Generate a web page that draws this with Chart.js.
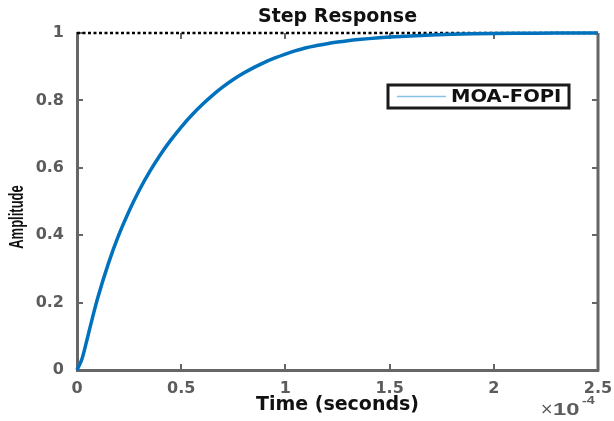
<!DOCTYPE html>
<html>
<head>
<meta charset="utf-8">
<script src="https://cdn.jsdelivr.net/npm/chart.js@4.4.1/dist/chart.umd.min.js"></script>
<style>
  html, body { margin: 0; padding: 0; background: #fff; }
  #wrap { width: 614px; height: 421px; }
</style>
</head>
<body>
<div id="wrap"><canvas id="stepChart" width="614" height="421"></canvas></div>
<script>
// time is in units of 1e-4 seconds (axis multiplier drawn bottom right)
const timeTicks = [0, 0.5, 1, 1.5, 2, 2.5];
const ampTicks = [0, 0.2, 0.4, 0.6, 0.8, 1];

const time = [0, 0.025, 0.05, 0.075, 0.1, 0.15, 0.2, 0.25, 0.3, 0.35, 0.4, 0.45, 0.5,
  0.55, 0.6, 0.65, 0.7, 0.75, 0.8, 0.85, 0.9, 0.95, 1.0, 1.05, 1.1, 1.15, 1.2, 1.25,
  1.3, 1.35, 1.4, 1.45, 1.5, 1.6, 1.7, 1.8, 1.9, 2.0, 2.1, 2.2, 2.3, 2.4, 2.5];
const amplitude = [0, 0.035, 0.095, 0.157, 0.215, 0.315, 0.40, 0.472, 0.535, 0.59, 0.639, 0.682, 0.721,
  0.756, 0.787, 0.815, 0.84, 0.862, 0.881, 0.898, 0.913, 0.926, 0.9375, 0.9475, 0.9563, 0.9628, 0.9683, 0.973,
  0.977, 0.9804, 0.9833, 0.9858, 0.9879, 0.9914, 0.9941, 0.9961, 0.9975, 0.9985, 0.9992, 0.9996, 0.9998, 0.9999, 1.0];
const finalValue = 1;
const seriesName = "MOA-FOPI";

const axisGray = "#666666";
const labelGray = "#5c5c5c";
const lineBlue = "#0072BD";
const legendBlue = "#86c3e6";

// draw text squeezed/stretched horizontally (the source image is wider than tall)
function stretchText(ctx, text, x, y, font, color, sx, align, rotate) {
  ctx.save();
  ctx.translate(x, y);
  ctx.scale(sx, 1);
  if (rotate) ctx.rotate(-Math.PI / 2);
  ctx.font = font;
  ctx.fillStyle = color;
  ctx.textAlign = align || "center";
  ctx.textBaseline = "middle";
  ctx.fillText(text, 0, 0);
  ctx.restore();
}

const framePlugin = {
  id: "frame",
  beforeDatasetsDraw(chart) {
    const { ctx, chartArea: a, scales } = chart;
    ctx.save();
    ctx.strokeStyle = axisGray;
    ctx.lineWidth = 3;
    ctx.beginPath();
    ctx.moveTo(a.right, a.top);
    ctx.lineTo(a.right, a.bottom + 1.5);
    ctx.stroke();

    // inward tick marks on all four sides
    ctx.lineWidth = 2;
    ctx.beginPath();
    scales.x.ticks.forEach((t) => {
      const px = Math.round(scales.x.getPixelForValue(t.value));
      ctx.moveTo(px, a.bottom);
      ctx.lineTo(px, a.bottom - 6);
      ctx.moveTo(px, a.top);
      ctx.lineTo(px, a.top + 6);
    });
    scales.y.ticks.forEach((t) => {
      const py = Math.round(scales.y.getPixelForValue(t.value));
      ctx.moveTo(a.left, py);
      ctx.lineTo(a.left + 6, py);
      ctx.moveTo(a.right, py);
      ctx.lineTo(a.right - 6, py);
    });
    ctx.stroke();
    ctx.restore();
  },
  afterDraw(chart) {
    const { ctx, chartArea: a } = chart;
    const cx = (a.left + a.right) / 2;

    // title
    stretchText(ctx, "Step Response", cx, a.top - 16, "bold 19px 'DejaVu Sans'", "#111", 1, "center");

    // y axis label
    stretchText(ctx, "Amplitude", 18, 217, "bold 13px 'Liberation Sans'", "#111", 1.5, "center", true);

    // exponent of the time axis
    stretchText(ctx, "\u00d7", a.right - 58, 410, "16px 'DejaVu Sans'", labelGray, 1, "left");
    stretchText(ctx, "10", a.right - 45, 410, "bold 17px 'Liberation Sans'", labelGray, 1.4, "left");
    stretchText(ctx, "-4", a.right - 16, 401, "bold 11px 'Liberation Sans'", labelGray, 1.3, "left");

    // legend box
    const bx = a.right - 210, by = a.top + 52, bw = 181, bh = 23;
    ctx.save();
    ctx.fillStyle = "#fff";
    ctx.fillRect(bx, by, bw, bh);
    ctx.strokeStyle = "#1a1a1a";
    ctx.lineWidth = 3;
    ctx.strokeRect(bx, by, bw, bh);
    ctx.strokeStyle = legendBlue;
    ctx.lineWidth = 1.5;
    ctx.beginPath();
    ctx.moveTo(bx + 9, by + bh / 2);
    ctx.lineTo(bx + 58, by + bh / 2);
    ctx.stroke();
    ctx.restore();
    stretchText(ctx, seriesName, bx + 63, by + bh / 2 + 1, "bold 17px 'DejaVu Sans'", "#111", 1.15, "left");
  }
};

new Chart(document.getElementById("stepChart"), {
  type: "line",
  data: {
    datasets: [
      {
        label: seriesName,
        data: time.map((t, i) => ({ x: t, y: amplitude[i] })),
        borderColor: lineBlue,
        borderWidth: 3.5,
        pointRadius: 0,
        cubicInterpolationMode: "monotone",
        fill: false,
        clip: false
      },
      {
        label: "final value",
        data: [{ x: timeTicks[0], y: finalValue }, { x: timeTicks[timeTicks.length - 1], y: finalValue }],
        borderColor: "#000",
        borderWidth: 2.5,
        borderDash: [3, 2.5],
        pointRadius: 0,
        fill: false,
        clip: false
      }
    ]
  },
  options: {
    responsive: false,
    animation: false,
    layout: { padding: { top: 33, right: 16, left: 0, bottom: 0 } },
    plugins: {
      legend: { display: false },
      tooltip: { enabled: false },
      title: { display: false }
    },
    scales: {
      x: {
        type: "linear",
        min: timeTicks[0],
        max: timeTicks[timeTicks.length - 1],
        afterBuildTicks: (scale) => { scale.ticks = timeTicks.map((v) => ({ value: v })); },
        afterFit: (scale) => {
          scale.height = 51;
          scale.paddingLeft = 0;
          scale.paddingRight = 0;
        },
        grid: { display: true, drawOnChartArea: false, drawTicks: false },
        border: { color: axisGray, width: 3 },
        ticks: {
          color: labelGray,
          font: { family: "'DejaVu Sans'", size: 16, weight: "bold" },
          padding: 9,
          maxRotation: 0,
          callback: (v) => String(v)
        },
        title: {
          display: true,
          text: "Time (seconds)",
          color: "#111",
          font: { family: "'DejaVu Sans'", size: 19, weight: "bold" },
          padding: { top: 0, bottom: 5 }
        }
      },
      y: {
        min: ampTicks[0],
        max: ampTicks[ampTicks.length - 1],
        afterBuildTicks: (scale) => { scale.ticks = ampTicks.map((v) => ({ value: v })); },
        afterFit: (scale) => {
          scale.width = 77;
          scale.paddingTop = 0;
          scale.paddingBottom = 0;
        },
        grid: { display: true, drawOnChartArea: false, drawTicks: false },
        border: { color: axisGray, width: 3 },
        ticks: {
          color: labelGray,
          font: { family: "'DejaVu Sans'", size: 16, weight: "bold" },
          padding: 13,
          callback: (v) => String(v)
        }
      }
    }
  },
  plugins: [framePlugin]
});
</script>
</body>
</html>
